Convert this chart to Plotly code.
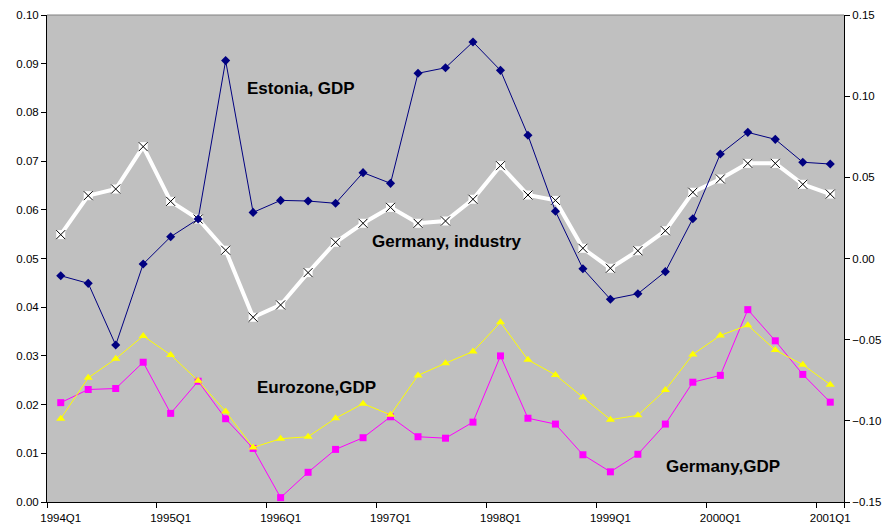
import plotly.graph_objects as go

quarters = [f"{y}Q{q}" for y in range(1994, 2001) for q in range(1, 5)] + ["2001Q1"]
year_ticks = [f"{y}Q1" for y in range(1994, 2002)]

# right axis
estonia_gdp = [-0.0106, -0.0153, -0.0533, -0.0034, 0.0134, 0.0243, 0.1219, 0.0284,
               0.0358, 0.0354, 0.0340, 0.0529, 0.0463, 0.1141, 0.1175, 0.1334,
               0.1159, 0.0759, 0.0291, -0.0063, -0.0251, -0.0217, -0.0081, 0.0245,
               0.0644, 0.0777, 0.0734, 0.0593, 0.0582]
germany_industry = [0.0147, 0.0387, 0.0428, 0.0689, 0.0352, 0.0243, 0.0051, -0.0362,
                    -0.0286, -0.0087, 0.0100, 0.0217, 0.0315, 0.0217, 0.0231, 0.0365,
                    0.0572, 0.0391, 0.0358, 0.0063, -0.0060, 0.0048, 0.0171, 0.0408,
                    0.0490, 0.0586, 0.0586, 0.0457, 0.0397]
# left axis
eurozone_gdp = [0.0171, 0.0255, 0.0294, 0.0341, 0.0302, 0.0249, 0.0186, 0.0112,
                0.0130, 0.0134, 0.0172, 0.0202, 0.0179, 0.0260, 0.0285, 0.0309,
                0.0369, 0.0292, 0.0261, 0.0215, 0.0169, 0.0178, 0.0230, 0.0303,
                0.0342, 0.0363, 0.0312, 0.0282, 0.0241]
germany_gdp = [0.0204, 0.0231, 0.0233, 0.0287, 0.0182, 0.0248, 0.0171, 0.0110,
               0.0009, 0.0061, 0.0108, 0.0132, 0.0175, 0.0134, 0.0131, 0.0164,
               0.0300, 0.0172, 0.0160, 0.0097, 0.0062, 0.0098, 0.0160, 0.0246,
               0.0260, 0.0395, 0.0331, 0.0262, 0.0205]

FONT = "Liberation Sans, Arial, sans-serif"

fig = go.Figure()
fig.add_trace(go.Scatter(x=quarters, y=germany_gdp, mode="lines+markers", yaxis="y",
                         line=dict(color="#FF00FF", width=1),
                         marker=dict(symbol="square", size=7, color="#FF00FF"),
                         name="Germany,GDP"))
fig.add_trace(go.Scatter(x=quarters, y=eurozone_gdp, mode="lines+markers", yaxis="y",
                         line=dict(color="#FFFF00", width=1),
                         marker=dict(symbol="triangle-up", size=8, color="#FFFF00"),
                         name="Eurozone,GDP"))
fig.add_trace(go.Scatter(x=quarters, y=germany_industry, mode="lines+markers", yaxis="y2",
                         line=dict(color="#FFFFFF", width=4),
                         marker=dict(symbol="square", size=9, color="#FFFFFF"),
                         name="Germany, industry"))
fig.add_trace(go.Scatter(x=quarters, y=germany_industry, mode="markers", yaxis="y2",
                         marker=dict(symbol="x-thin-open", size=9, color="#000000",
                                     line=dict(color="#000000", width=1)),
                         showlegend=False, hoverinfo="skip"))
fig.add_trace(go.Scatter(x=quarters, y=estonia_gdp, mode="lines+markers", yaxis="y2",
                         line=dict(color="#000080", width=1),
                         marker=dict(symbol="diamond", size=7, color="#000080"),
                         name="Estonia, GDP"))

ann_style = dict(xref="paper", yref="paper", showarrow=False, xanchor="center", yanchor="middle",
                 font=dict(family=FONT, size=17, color="#000000", weight="bold"))
fig.add_annotation(text="Estonia, GDP", x=0.319, y=0.850, **ann_style)
fig.add_annotation(text="Germany, industry", x=0.5016, y=0.534, **ann_style)
fig.add_annotation(text="Eurozone,GDP", x=0.3386, y=0.236, **ann_style)
fig.add_annotation(text="Germany,GDP", x=0.8476, y=0.0739, **ann_style)

fig.add_shape(type="line", xref="paper", yref="paper", x0=0, x1=1, y0=1, y1=1,
              line=dict(color="#808080", width=1))

fig.update_layout(
    width=882, height=528,
    margin=dict(l=47, r=38, t=15, b=26),
    paper_bgcolor="#FFFFFF", plot_bgcolor="#C0C0C0",
    showlegend=False,
    font=dict(family=FONT, color="#000000", size=11),
    xaxis=dict(type="category", tickmode="array", tickvals=year_ticks, ticktext=year_ticks,
               range=[-0.5, len(quarters) - 0.5],
               tickson="boundaries", ticks="outside", ticklen=5, tickcolor="#000000",
               showline=True, linecolor="#000000", linewidth=1, showgrid=False,
               tickangle=0, automargin=False, ticklabelstandoff=5,
               tickfont=dict(size=11.5), zeroline=False),
    yaxis=dict(range=[0, 0.1], dtick=0.01, tickformat=".2f", ticks="outside", ticklen=5,
               tickcolor="#000000", showline=True, linecolor="#000000", linewidth=1,
               showgrid=False, zeroline=False, tickfont=dict(size=11.5), automargin=False),
    yaxis2=dict(range=[-0.15, 0.15], dtick=0.05, tickformat=".2f", ticks="outside", ticklen=5,
                tickcolor="#000000", showline=True, linecolor="#000000", linewidth=1,
                showgrid=False, zeroline=False, overlaying="y", side="right",
                tickfont=dict(size=11.5), automargin=False),
)

fig.write_html("out.html", config={"displayModeBar": False},
               post_script="document.body.style.margin='0px';")
